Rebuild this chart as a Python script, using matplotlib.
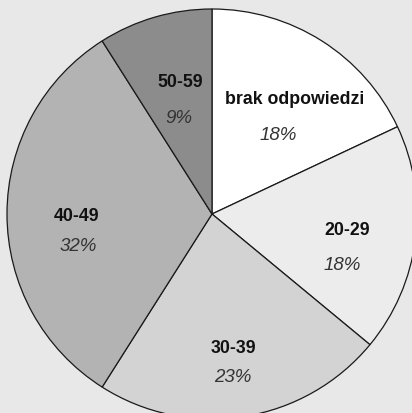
import numpy as np
from matplotlib import pyplot as plt

plt.rcParams['font.family'] = ['Liberation Sans', 'DejaVu Sans']

# pie data, clockwise from 12 o'clock
labels = ["brak odpowiedzi", "20-29", "30-39", "40-49", "50-59"]
values = [18, 18, 23, 32, 9]
colors = ["#ffffff", "#ececec", "#d3d3d3", "#b3b3b3", "#8c8c8c"]

# text placement in units of the pie radius: (name x, name y, percent x, percent y)
text_pos = [(0.405, 0.561, 0.322, 0.390),
            (0.659, -0.078, 0.634, -0.244),
            (0.107, -0.649, 0.102, -0.795),
            (-0.659, -0.005, -0.654, -0.156),
            (-0.156, 0.644, -0.161, 0.473)]

W, H = 412, 414
cx, cy, R = 212, 215, 205

fig = plt.figure(figsize=(W / 100, H / 100), dpi=100)
fig.patch.set_facecolor("#e8e8e8")
ax = fig.add_axes([(cx - R) / W, (H - cy - R) / H, 2 * R / W, 2 * R / H])
ax.set_axis_off()

wedges, _ = ax.pie(values, colors=colors, startangle=90, counterclock=False,
                   radius=1, wedgeprops=dict(edgecolor="#1a1a1a", linewidth=0.9))
for w in wedges:
    w.set_clip_on(False)
ax.set_xlim(-1, 1)
ax.set_ylim(-1, 1)

for lab, v, (lx, ly, px, py) in zip(labels, values, text_pos):
    ax.text(lx, ly, lab, ha="center", va="center", fontsize=12.8,
            fontweight="bold", color="#111111")
    ax.text(px, py, f"{v}%", ha="center", va="center", fontsize=13.5,
            fontstyle="italic", color="#333333")

fig.savefig("out.png", dpi=100, facecolor=fig.get_facecolor())
